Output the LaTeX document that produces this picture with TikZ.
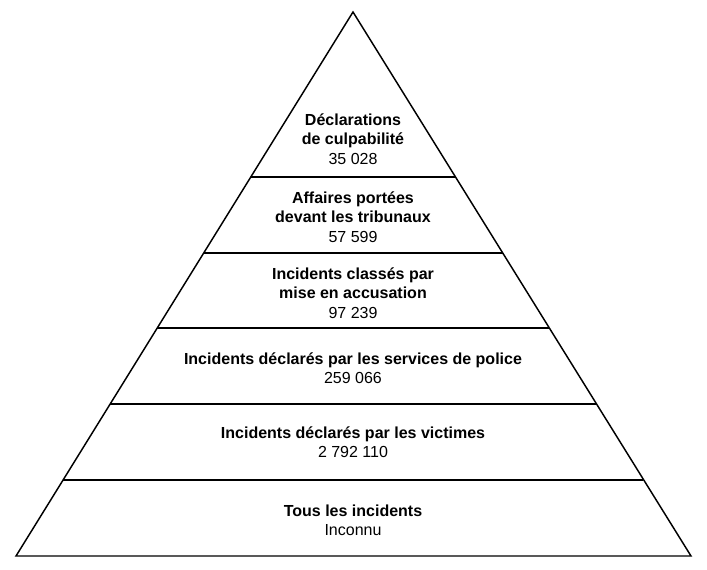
\documentclass[tikz,border=0pt]{standalone}
\usepackage{fontspec}
\setmainfont{Liberation Sans}
\usetikzlibrary{positioning}

\begin{document}
\begin{tikzpicture}[x=0.75pt, y=-0.75pt,
    every node/.append style={align=center, font=\fontsize{12}{14.5}\selectfont},
    edge/.style={draw, line width=1.1pt},
    level/.style={edge}]
   \useasboundingbox (0,0) rectangle (707,569);
   \coordinate (top) at (353,12);
   \coordinate (bl) at (16,556);
   \coordinate (br) at (691,556);
   \draw[edge, line join=miter] (top) -- (bl) -- (br) -- cycle;

   % separating lines
   \draw[level] (250.6,177) -- (455.4,177);
   \draw[level] (203.5,253) -- (502.5,253);
   \draw[level] (157,328) -- (549,328);
   \draw[level] (109.8,404) -- (596.2,404);
   \draw[level] (62.6,480) -- (643.4,480);

   \node (L6) at (353,139) {\textbf{Déclarations}\\\textbf{de culpabilité}\\35 028};
   \node (L5) at (353,217) {\textbf{Affaires portées}\\\textbf{devant les tribunaux}\\57 599};
   \node (L4) at (353,293) {\textbf{Incidents classés par}\\\textbf{mise en accusation}\\97 239};
   \node (L3) at (353,368) {\textbf{Incidents déclarés par les services de police}\\259 066};
   \node (L2) at (353,442) {\textbf{Incidents déclarés par les victimes}\\2 792 110};
   \node (L1) at (353,520) {\textbf{Tous les incidents}\\Inconnu};
\end{tikzpicture}
\end{document}
